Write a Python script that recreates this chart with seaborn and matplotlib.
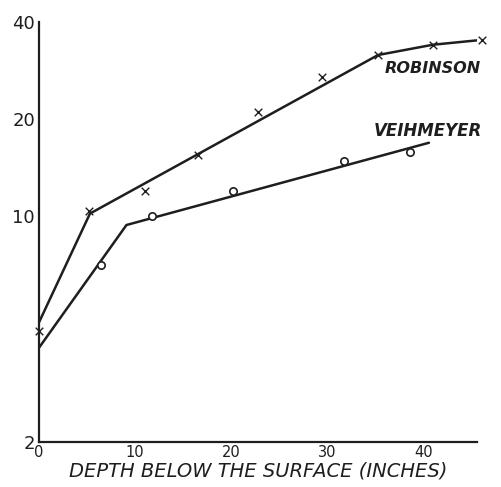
import numpy as np
import pandas as pd
import matplotlib
matplotlib.use("Agg")
import matplotlib.pyplot as plt
import seaborn as sns

# Data (depth in inches, value on log scale)
rob_pts_x = [0, 5.2, 11.0, 16.6, 22.8, 29.5, 35.3, 41.0, 46.1]
rob_pts_y = [4.4, 10.4, 12.0, 15.5, 21.0, 27.0, 31.6, 34.0, 35.2]
rob_line_x = [0, 5.3, 35.3, 41.0, 46.1]
rob_line_y = [4.7, 10.2, 31.6, 34.0, 35.2]

vei_pts_x = [6.5, 11.8, 20.2, 31.8, 38.6]
vei_pts_y = [7.05, 10.0, 12.0, 14.8, 15.8]
vei_line_x = [0, 9.1, 40.6]
vei_line_y = [3.92, 9.4, 16.9]

y_ticks = [2, 10, 20, 40]
x_ticks = [0, 10, 20, 30, 40]
series_labels = ["ROBINSON", "VEIHMEYER"]
x_label = "DEPTH BELOW THE SURFACE (INCHES)"

sns.set_style("white")
plt.rcParams['font.family'] = ['DejaVu Sans']

ink = "#1e1e1e"
fig = plt.figure(figsize=(5.01, 4.87), dpi=100)
ax = fig.add_axes([0.078, 0.0924, 0.874, 0.8625])

rob_line = pd.DataFrame({"x": rob_line_x, "y": rob_line_y})
vei_line = pd.DataFrame({"x": vei_line_x, "y": vei_line_y})
sns.lineplot(data=rob_line, x="x", y="y", ax=ax, color=ink, lw=1.8, sort=False)
sns.lineplot(data=vei_line, x="x", y="y", ax=ax, color=ink, lw=1.8, sort=False)

rob = pd.DataFrame({"x": rob_pts_x, "y": rob_pts_y})
vei = pd.DataFrame({"x": vei_pts_x, "y": vei_pts_y})
sns.scatterplot(data=rob, x="x", y="y", ax=ax, marker="x", s=30, color=ink,
                linewidth=1.0, clip_on=False, zorder=3)
sns.scatterplot(data=vei, x="x", y="y", ax=ax, marker="o", s=28, facecolor="white",
                edgecolor=ink, linewidth=1.2, clip_on=False, zorder=3)

ax.set_yscale("log")
ax.set_ylim(2, 40)
ax.set_xlim(0, 45.6)
ax.set_yticks(y_ticks)
ax.set_yticklabels([str(t) for t in y_ticks], fontsize=13, color=ink)
ax.yaxis.set_minor_locator(matplotlib.ticker.NullLocator())
ax.set_xticks(x_ticks)
ax.set_xticklabels([str(t) for t in x_ticks], fontsize=10.5, color=ink)
ax.tick_params(axis="y", direction="in", length=7, width=1.3, color=ink, pad=3)
ax.tick_params(axis="x", direction="in", length=6, width=1.3, color=ink, pad=2)
ax.set_xlabel(x_label, fontsize=14, style="italic", color=ink, labelpad=1)
ax.set_ylabel("")

for s in ["top", "right"]:
    ax.spines[s].set_visible(False)
for s in ["left", "bottom"]:
    ax.spines[s].set_color(ink)
    ax.spines[s].set_linewidth(1.6)

ax.text(36.0, 30.2, series_labels[0], fontsize=11.5, style="italic", fontweight="bold",
        color=ink, ha="left", va="top", clip_on=False)
ax.text(34.9, 18.4, series_labels[1], fontsize=12, style="italic", fontweight="bold",
        color=ink, ha="left", va="center", clip_on=False)

fig.savefig("out.png", dpi=100, facecolor="white")
